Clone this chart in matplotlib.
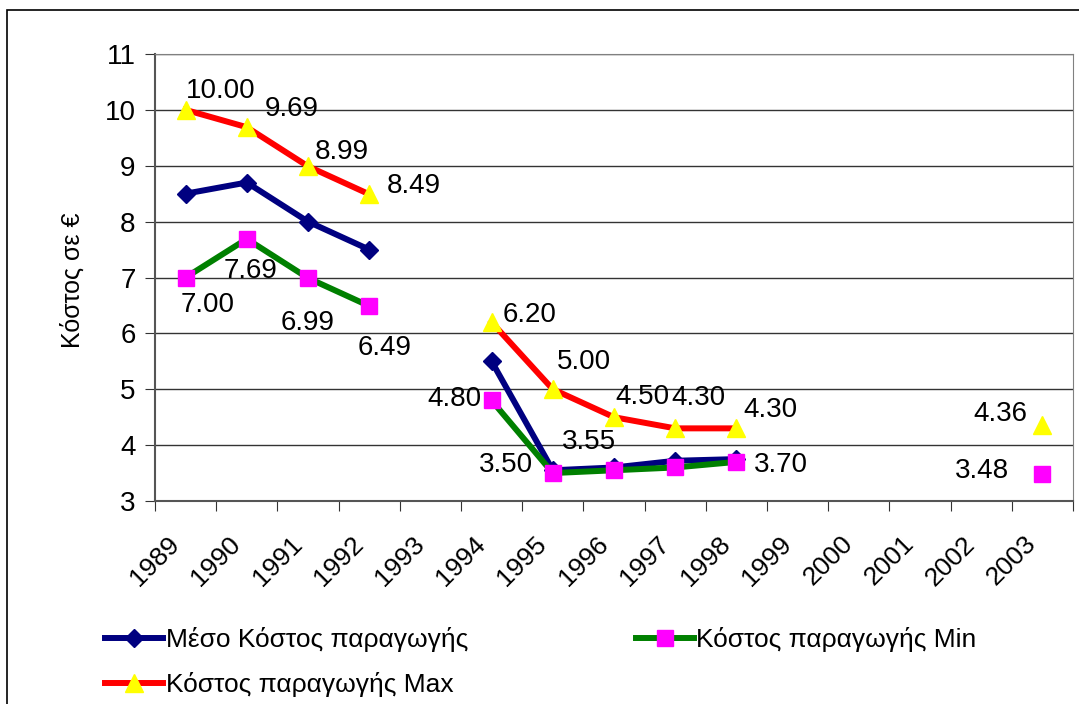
import numpy as np
import matplotlib
matplotlib.use('Agg')
import matplotlib.pyplot as plt
from matplotlib.patches import Rectangle

plt.rcParams['font.family'] = ['Liberation Sans', 'DejaVu Sans']

years = [str(y) for y in range(1989, 2004)]
nan = np.nan
mean_cost = [8.5, 8.7, 8.0, 7.5, nan, 5.5, 3.55, 3.6, 3.72, 3.75, nan, nan, nan, nan, nan]
min_cost = [7.00, 7.69, 6.99, 6.49, nan, 4.80, 3.50, 3.55, 3.60, 3.70, nan, nan, nan, nan, 3.48]
max_cost = [10.00, 9.69, 8.99, 8.49, nan, 6.20, 5.00, 4.50, 4.30, 4.30, nan, nan, nan, nan, 4.36]

# label placement (pixel offsets, alignment); None = no label shown
max_lbl = [(0, 19, 'left'), (18, 18, 'left'), (7, 14, 'left'), (18, 8, 'left'), None,
           (11, 7, 'left'), (4, 27, 'left'), (1, 20, 'left'), (-4, 30, 'left'), (7, 18, 'left'),
           None, None, None, None, (-15, 11, 'right')]
min_lbl = [(-5, -27, 'left'), (4, -32, 'center'), (-27, -45, 'left'), (-12, -42, 'left'), None,
           (-10, 1, 'right'), (-20, 8, 'right'), (2, 28, 'right'), None, (17, -3, 'left'),
           None, None, None, None, (-33, 3, 'right')]

fig = plt.figure(figsize=(10.79, 7.04), dpi=100)
fig.patches.append(Rectangle((7 / 1079, -0.2), 1.2, 1.2 - 10 / 704,
                             transform=fig.transFigure, fill=False,
                             edgecolor='black', linewidth=1.2))
ax = fig.add_axes([155 / 1079, (704 - 501) / 704, 918 / 1079, 447 / 704])

x = np.arange(len(years))
ax.plot(x, mean_cost, color='#000080', lw=4.3, marker='D', ms=9,
        mfc='#000080', mec='#000080', label='Μέσο Κόστος παραγωγής', zorder=3)
ax.plot(x, min_cost, color='#008000', lw=4.3, marker='s', ms=11,
        mfc='#FF00FF', mec='#FF00FF', label='Κόστος παραγωγής Min', zorder=4)
ax.plot(x, max_cost, color='#FF0000', lw=4.3, marker='^', ms=13,
        mfc='#FFFF00', mec='#FFFF00', label='Κόστος παραγωγής Max', zorder=5)

for vals, lbls in [(max_cost, max_lbl), (min_cost, min_lbl)]:
    for i, v in enumerate(vals):
        if np.isnan(v) or lbls[i] is None:
            continue
        dx, dy, ha = lbls[i]
        ax.annotate('%.2f' % v, (x[i], v), xytext=(dx, dy), textcoords='offset pixels',
                    ha=ha, va='center', fontsize=20, zorder=6)

ax.set_xlim(-0.5, len(years) - 0.5)
ax.set_ylim(3, 11)
ax.set_yticks(range(3, 12))
ax.yaxis.grid(True, color='#333333', lw=1)
ax.set_axisbelow(True)
ax.set_xticks(np.arange(-0.5, len(years), 1.0))
ax.set_xticklabels([])
# rotated labels: anchor slightly left of the category centre
ax.set_xticks(x - 0.3, minor=True)
ax.set_xticklabels(years, minor=True, rotation=45, ha='right', va='top',
                   rotation_mode='anchor', fontsize=19)
ax.tick_params(axis='x', which='minor', length=0, pad=22)
ax.tick_params(axis='x', which='major', length=7, direction='out', color='#333333')
ax.tick_params(axis='y', length=7, direction='out', labelsize=20, pad=7, color='#333333')
for s in ['top', 'right']:
    ax.spines[s].set_color('#808080')
for s in ['left', 'bottom']:
    ax.spines[s].set_color('#555555')
    ax.spines[s].set_linewidth(1.5)
ax.set_ylabel('Κόστος σε €', fontsize=18)
ax.yaxis.set_label_coords(-0.077, 0.494)

h, l = ax.get_legend_handles_labels()
order = [0, 2, 1]
fig.legend([h[i] for i in order], [l[i] for i in order], ncol=2,
           loc='upper left', bbox_to_anchor=(105 / 1079, 1 - 627 / 704),
           frameon=False, fontsize=19, handlelength=2.2, handletextpad=0.1,
           columnspacing=6.35, labelspacing=0.75, borderpad=0, borderaxespad=0,
           markerscale=1.0)

fig.savefig('out.png', dpi=100)
